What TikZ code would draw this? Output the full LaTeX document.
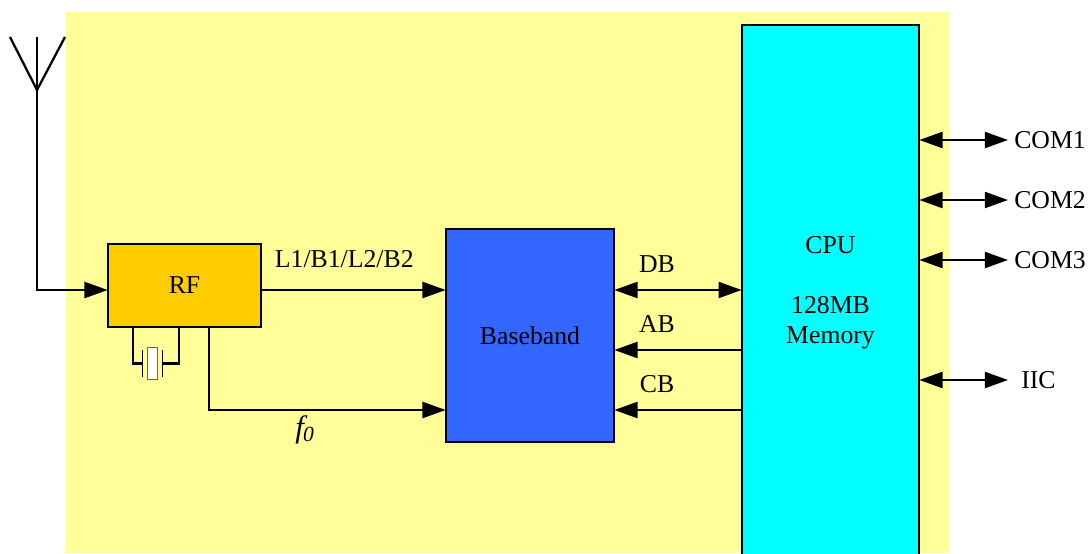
\documentclass[tikz,border=0pt]{standalone}
\usepackage{xcolor}
\usepackage{fontspec}
\setmainfont{Liberation Serif}
\usetikzlibrary{shapes,arrows.meta,positioning,fit,calc}
\definecolor{board}{HTML}{FFFF99}
\definecolor{rfcol}{HTML}{FFCC00}
\definecolor{bbcol}{HTML}{3366FF}
\definecolor{cpucol}{HTML}{00FFFF}

\begin{document}
\begin{tikzpicture}[
  x=0.025cm, y=-0.025cm,
  block/.style={rectangle, draw=black, line width=1.6pt, align=center, inner sep=0pt, outer sep=0.2pt, font=\fontsize{18.3}{21.3}\selectfont},
  lbl/.style={inner sep=0pt, font=\fontsize{18.3}{21.3}\selectfont},
  portlbl/.style={lbl, anchor=west, inner xsep=0.15cm},
  wire/.style={line width=1.6pt},
  sig/.style={wire, -{Triangle[length=0.58cm,width=0.4cm]}},
  bus/.style={wire, {Triangle[length=0.58cm,width=0.4cm]}-{Triangle[length=0.58cm,width=0.4cm]}}
]
\useasboundingbox (0,0) rectangle (1089,553);
\clip (0,0) rectangle (1089,553);
\fill[board] (66,12) rectangle (949,553);

\node[block, fill=rfcol, minimum width=3.825cm, minimum height=2.075cm] (rf) at (184.5,285.5) {RF};
\node[block, fill=bbcol, minimum width=4.2cm, minimum height=5.325cm] (bb) at (530,335.5) {Baseband};
\node[block, fill=cpucol, minimum width=4.425cm, minimum height=13.4cm] (cpu) at (830.5,293) {CPU\\ \\128MB\\Memory};

% signal rows
\coordinate (rowdb) at (0,290);
\coordinate (rowab) at (0,350);
\coordinate (rowcb) at (0,410);

% antenna
\coordinate (anttop) at (37,37);
\coordinate (antfoot) at (37,90);
\coordinate (antl) at (10,37);
\coordinate (antr) at (65,37);
\draw[wire] (antl) -- (antfoot) -- (antr);
\draw[wire] (anttop) -- (antfoot);
\draw[sig] (antfoot) |- (rf.west |- rowdb);

% crystal
\node[draw=black!60, fill=white, line width=0.8pt, minimum width=0.26cm, minimum height=0.82cm, inner sep=0pt] (xtal) at (152.5,363.5) {};
\coordinate (platel) at (142,363.5);
\coordinate (plater) at (162,363.5);
\draw[line width=0.7pt] (142,350) -- (142,377);
\draw[line width=0.7pt] (162,350) -- (162,377);
\draw[wire] (rf.south -| 133,0) |- (platel);
\draw[wire] (rf.south -| 179,0) |- (plater);

% rf to baseband
\draw[sig] (rf.east |- rowdb) -- node[lbl, pos=0.45, above=0.54cm] (l1) {L1/B1/L2/B2} (bb.west |- rowdb);
\draw[sig] (rf.south -| 209,0) |- (bb.west |- rowcb);
\node[lbl, font=\fontsize{22}{24}\selectfont] (f0) at (305,430) {\textit{f\textsubscript{\kern-0.5pt 0}}};

% cpu to baseband
\draw[bus] (bb.east |- rowdb) -- (cpu.west |- rowdb);
\draw[sig] (cpu.west |- rowab) -- (bb.east |- rowab);
\draw[sig] (cpu.west |- rowcb) -- (bb.east |- rowcb);
\node[lbl] (db) at (657,264) {DB};
\node[lbl] (ab) at (657,324) {AB};
\node[lbl] (cb) at (657,384) {CB};

% ports
\node[portlbl] (com1) at (1008,140) {COM1};
\node[portlbl] (com2) at (1008,200) {COM2};
\node[portlbl] (com3) at (1008,260) {COM3};
\node[portlbl, inner xsep=0.325cm] (iic) at (1008,380) {IIC};
\draw[bus] (cpu.east |- com1) -- (com1.west);
\draw[bus] (cpu.east |- com2) -- (com2.west);
\draw[bus] (cpu.east |- com3) -- (com3.west);
\draw[bus] (cpu.east |- iic) -- (iic.west);
\end{tikzpicture}
\end{document}
